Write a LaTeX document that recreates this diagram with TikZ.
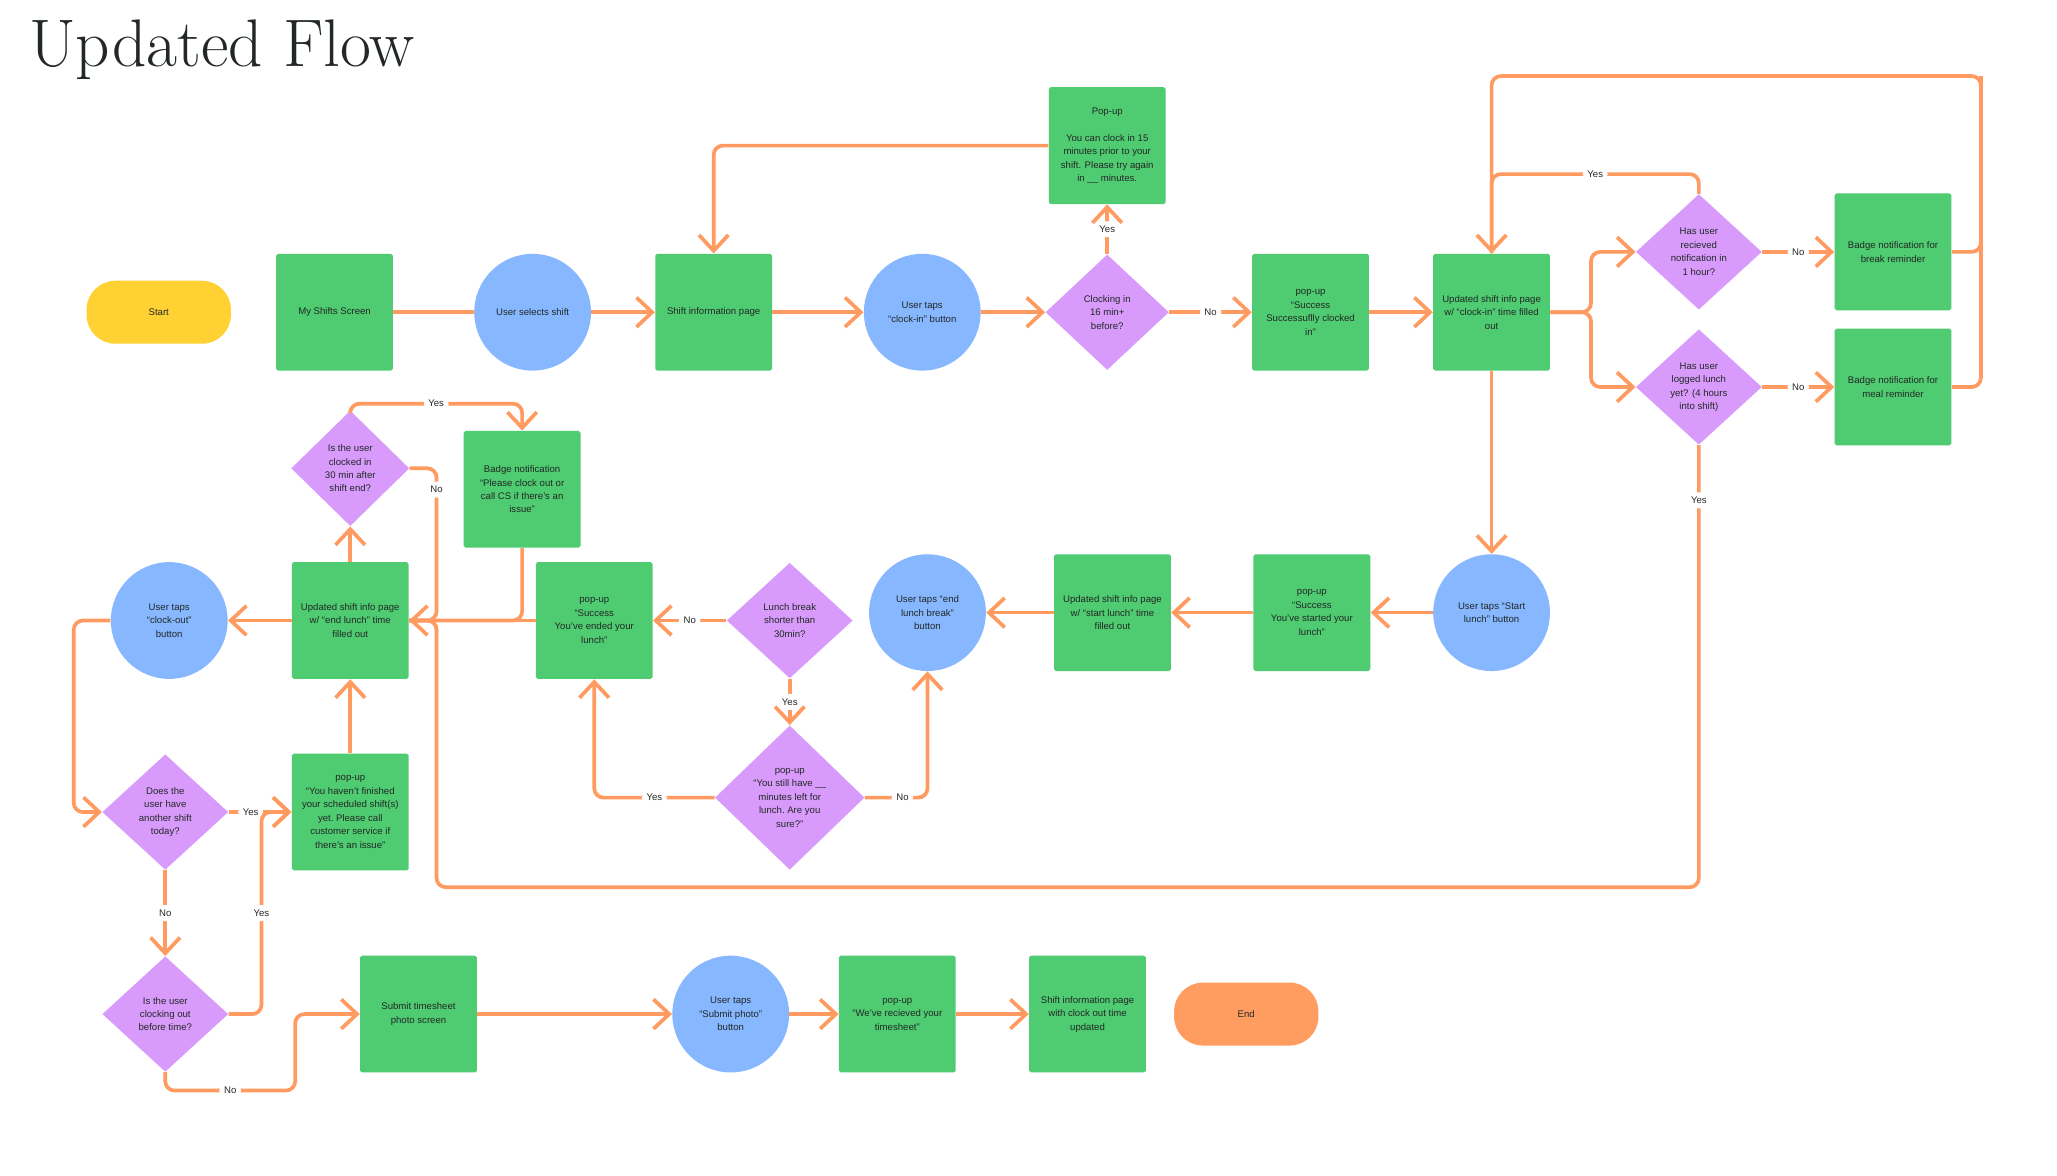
\documentclass[tikz,border=0pt]{standalone}
\usepackage{fontspec}
\usepackage{xcolor}
\usepackage{tikz}
\newfontfamily\flowfont{Liberation Sans}
\definecolor{screengreen}{RGB}{79, 203, 113}
\definecolor{tapblue}{RGB}{134, 183, 255}
\definecolor{askpurple}{RGB}{216, 155, 251}
\definecolor{startyellow}{RGB}{255, 209, 51}
\definecolor{endorange}{RGB}{255, 157, 96}
\definecolor{floworange}{RGB}{255, 154, 96}
\definecolor{inkgrey}{RGB}{34, 40, 38}
\usetikzlibrary{shapes.geometric, arrows.meta, positioning, calc}

\begin{document}
\begin{tikzpicture}[x=0.025cm, y=-0.025cm,
    flowbase/.style={font=\flowfont\fontsize{5.2}{7.3}\selectfont, text=inkgrey, align=center, inner sep=0pt},
    screen/.style={flowbase, rectangle, fill=screengreen, rounded corners=1pt, minimum width=2.225cm, minimum height=2.225cm},
    tapbtn/.style={flowbase, ellipse, fill=tapblue, minimum width=2.225cm, minimum height=2.225cm},
    ask/.style={flowbase, diamond, fill=askpurple, minimum width=2.4cm, minimum height=2.2cm},
    terminal/.style={flowbase, rectangle, rounded corners=0.55cm, minimum width=2.75cm, minimum height=1.2cm},
    flow/.style={draw=floworange, line width=2pt, rounded corners=5pt},
    flowarrow/.style={flow, -{Straight Barb[length=0.3cm, width=0.56cm]}},
    tag/.style={flowbase, fill=white, inner sep=2.5pt}]

    \fill[white] (0,0) rectangle (1568,896);
    \useasboundingbox (0,0) rectangle (1568,896);

    \node[anchor=base west, font=\fontsize{36.5}{42}\selectfont, text=inkgrey, inner sep=0pt] (title) at (22,51) {Updated Flow};

    % clock in
    \node[terminal, fill=startyellow] (start) at (121,238) {Start};
    \node[screen] (myshifts) at (255,238) {My Shifts Screen};
    \node[tapbtn] (selectshift) at (406,238) {User selects shift};
    \node[screen] (shiftinfo) at (544,238) {Shift information page};
    \node[tapbtn] (clockinbtn) at (703,238) {User taps\\“clock-in” button};
    \node[ask, minimum width=2.35cm] (tooearly) at (844,238) {Clocking in\\16 min+\\before?};
    \node[screen] (earlypopup) at (844,111) {Pop-up\\[7.3pt]You can clock in 15\\minutes prior to your\\shift.  Please try again\\in \_\_ minutes.};
    \node[screen] (clockedin) at (999,238) {pop-up\\“Success\\Successuflly clocked\\in”};
    \node[screen] (infoclockin) at (1137,238) {Updated shift info page\\w/ “clock-in” time filled\\out};
    \node[ask] (breaknote) at (1295,192) {Has user\\recieved\\notification in\\1 hour?};
    \node[screen] (breakbadge) at (1443,192) {Badge notification for\\break reminder};
    \node[ask] (lunchlogged) at (1295,295) {Has user\\logged lunch\\yet? (4 hours\\into shift)};
    \node[screen] (mealbadge) at (1443,295) {Badge notification for\\meal reminder};

    % lunch
    \node[tapbtn] (startlunchbtn) at (1137,467) {User taps “Start\\lunch” button};
    \node[screen] (lunchstarted) at (1000,467) {pop-up\\“Success\\You’ve started your\\lunch”};
    \node[screen] (infostart) at (848,467) {Updated shift info page\\w/ “start lunch” time\\filled out};
    \node[tapbtn] (endlunchbtn) at (707,467) {User taps “end\\lunch break”\\button};
    \node[ask] (shortlunch) at (602,473) {Lunch break\\shorter than\\30min?};
    \node[ask, minimum width=2.85cm, minimum height=2.75cm] (stillleft) at (602,608) {pop-up\\“You still have \_\_\\minutes left for\\lunch.\ Are you\\sure?”};
    \node[screen] (lunchended) at (453,473) {pop-up\\“Success\\You’ve ended your\\lunch”};
    \node[screen] (infoend) at (267,473) {Updated shift info page\\w/ “end lunch” time\\filled out};
    \node[ask, minimum width=2.25cm] (lateout) at (267,357) {Is the user\\clocked in\\30 min after\\shift end?};
    \node[screen] (clockoutbadge) at (398,373) {Badge notification\\“Please clock out or\\call CS if there’s an\\issue”};
    \node[tapbtn] (clockoutbtn) at (129,473) {User taps\\“clock-out”\\button};

    % clock out
    \node[ask] (anothershift) at (126,619) {Does the\\user have\\another shift\\today?};
    \node[screen] (notfinished) at (267,619) {pop-up\\“You haven’t finished\\your scheduled shift(s)\\yet.\ Please call\\customer service if\\there’s an issue”};
    \node[ask] (earlyout) at (126,773) {Is the user\\clocking out\\before time?};
    \node[screen] (timesheet) at (319,773) {Submit timesheet\\photo screen};
    \node[tapbtn] (photobtn) at (557,773) {User taps\\“Submit photo”\\button};
    \node[screen] (sheetgot) at (684,773) {pop-up\\“We’ve recieved your\\timesheet”};
    \node[screen] (infoout) at (829,773) {Shift information page\\with clock out time\\updated};
    \node[terminal, fill=endorange] (finish) at (950,773) {End};

    \draw[flow] (myshifts.east) -- (selectshift.west);
    \draw[flowarrow] (selectshift.east) -- (shiftinfo.west);
    \draw[flowarrow] (shiftinfo.east) -- (clockinbtn.west);
    \draw[flowarrow] (clockinbtn.east) -- (tooearly.west);
    \draw[flowarrow] (tooearly.east) -- node[tag]{No} (clockedin.west);
    \draw[flowarrow] (tooearly.north) -- node[tag]{Yes} (earlypopup.south);
    \draw[flowarrow] (earlypopup.west) -| (shiftinfo.north);
    \draw[flowarrow] (clockedin.east) -- (infoclockin.west);

    % reminders
    \draw[flowarrow] (infoclockin.east) -- ++(31,0) |- (breaknote.west);
    \draw[flowarrow] (infoclockin.east) -- ++(31,0) |- (lunchlogged.west);
    \draw[flowarrow] (breaknote.east) -- node[tag]{No} (breakbadge.west);
    \draw[flowarrow] (lunchlogged.east) -- node[tag]{No} (mealbadge.west);
    \coordinate (loopturn) at (1510,58);
    \draw[flow] (breakbadge.east) -| (loopturn);
    \draw[flowarrow] (mealbadge.east) -| (loopturn) -| (infoclockin.north);
    \draw[flow] (breaknote.north) -- ++(0,-15) -| node[tag, pos=0.25]{Yes} (infoclockin.north);

    % lunch
    \draw[flowarrow] (infoclockin.south) -- (startlunchbtn.north);
    \draw[flowarrow] (startlunchbtn.west) -- (lunchstarted.east);
    \draw[flowarrow] (lunchstarted.west) -- (infostart.east);
    \draw[flowarrow] (infostart.west) -- (endlunchbtn.east);
    \draw[flowarrow] (shortlunch.west) -- node[tag]{No} (lunchended.east);
    \draw[flowarrow] (shortlunch.south) -- node[tag]{Yes} (stillleft.north);
    \draw[flowarrow] (stillleft.west) -| node[tag, pos=0.25]{Yes} (lunchended.south);
    \draw[flowarrow] (stillleft.east) -| node[tag, pos=0.3]{No} (endlunchbtn.south);
    \draw[flowarrow] (lunchended.west) -- (infoend.east);
    \draw[flow] (clockoutbadge.south) |- (infoend.east);
    \draw[flow] (lateout.east) -| node[tag, pos=0.57]{No} ($(infoend.east)+(21,0)$) -- (infoend.east);
    \draw[flow] (lunchlogged.south) -- node[tag, pos=0.125]{Yes} ++(0,337) -| ($(infoend.east)+(21,0)$) -- (infoend.east);

    % clock out
    \draw[flowarrow] (infoend.north) -- (lateout.south);
    \draw[flowarrow] (lateout.north) -- ++(0,-5) -| node[tag, pos=0.25]{Yes} (clockoutbadge.north);
    \draw[flowarrow] (infoend.west) -- (clockoutbtn.east);
    \draw[flowarrow] (clockoutbtn.west) -- ++(-28,0) |- (anothershift.west);
    \draw[flowarrow] (anothershift.east) -- node[tag, pos=0.35]{Yes} (notfinished.west);
    \draw[flowarrow] (notfinished.north) -- (infoend.south);
    \draw[flowarrow] (anothershift.south) -- node[tag]{No} (earlyout.north);
    \draw[flowarrow] (earlyout.east) -- ++(25,0) |- node[tag, pos=0.25]{Yes} (notfinished.west);
    \draw[flowarrow] (earlyout.south) -- ++(0,14) -- node[tag]{No} ++(99,0) |- (timesheet.west);
    \draw[flowarrow] (timesheet.east) -- (photobtn.west);
    \draw[flowarrow] (photobtn.east) -- (sheetgot.west);
    \draw[flowarrow] (sheetgot.east) -- (infoout.west);
\end{tikzpicture}
\end{document}
